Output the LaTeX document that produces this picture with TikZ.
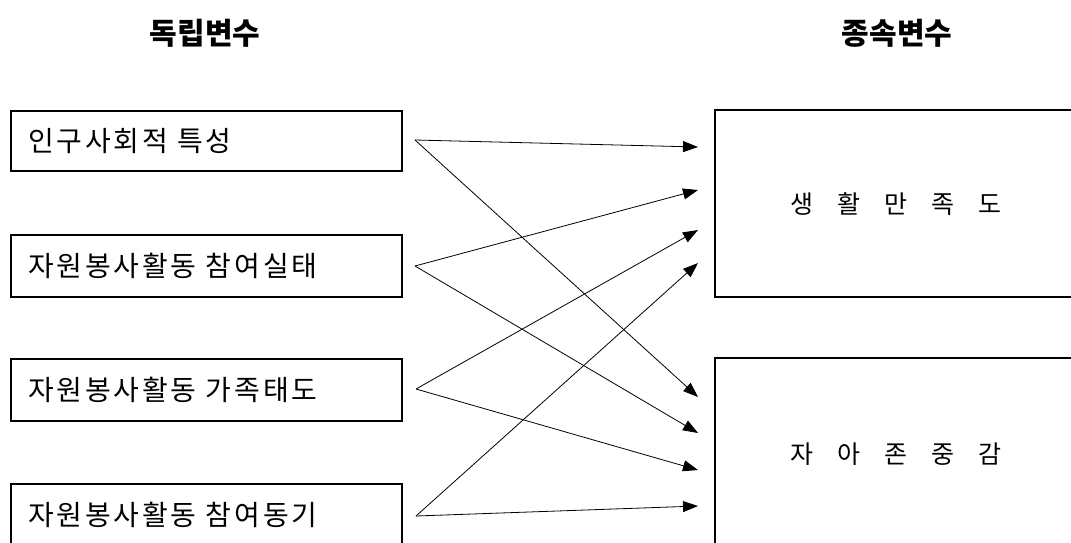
\documentclass[tikz,border=0pt]{standalone}
\usepackage{fontspec}
\setmainfont[WordSpace=3.5]{Noto Sans CJK KR}
\newfontfamily\tracked[WordSpace=3.5, LetterSpace=10]{Noto Sans CJK KR}
\newfontfamily\widespaced[WordSpace=4.3]{Noto Sans CJK KR}
\usetikzlibrary{arrows.meta}

\tikzset{
  ivbox/.style={draw, line width=2.2pt, anchor=north west, minimum width=391pt,
    text width=357pt, inner xsep=17pt, inner ysep=0pt, align=left,
    font=\tracked\fontsize{28}{30}\selectfont},
  dvbox/.style={draw, line width=2.2pt, anchor=north west, minimum width=362pt,
    align=center, font=\widespaced\fontsize{25}{30}\selectfont},
  heading/.style={font=\fontsize{30}{32}\selectfont\bfseries},
  path/.style={-{Triangle[length=15pt,width=11pt]}, line width=0.8pt}
}

\begin{document}
\begin{tikzpicture}[x=1pt, y=-1pt]
    \useasboundingbox (0,0) rectangle (1071,542);
    \clip (0,0) rectangle (1071,542);
    % headings
    \node[heading] (hiv) at (205,33) {독립변수};
    \node[heading] (hdv) at (897,33) {종속변수};
    % independent variables
    \node[ivbox, minimum height=60pt] (iv1) at (10,110) {인구사회적 특성};
    \node[ivbox, minimum height=62pt] (iv2) at (10,234) {자원봉사활동 참여실태};
    \node[ivbox, minimum height=62pt] (iv3) at (10,358) {자원봉사활동 가족태도};
    \node[ivbox, minimum height=62pt] (iv4) at (10,483) {자원봉사활동 참여동기};
    % dependent variables
    \node[dvbox, minimum height=187pt] (dv1) at (714,109) {생 활 만 족 도};
    \node[dvbox, minimum height=192pt] (dv2) at (714,357) {자 아 존 중 감};
    % arrow ends
    \coordinate (s1) at (415,140);
    \coordinate (s2) at (415,266);
    \coordinate (s3) at (416,389);
    \coordinate (s4) at (416,516);
    \coordinate (a1) at (698,147);
    \coordinate (a2) at (698,190);
    \coordinate (a3) at (698,230);
    \coordinate (a4) at (698,263);
    \coordinate (b1) at (698,397);
    \coordinate (b2) at (698,433);
    \coordinate (b3) at (698,470);
    \coordinate (b4) at (698,506);
    \foreach \i in {1,...,4} {
        \draw[path] (s\i) -- (a\i);
        \draw[path] (s\i) -- (b\i);
    }
\end{tikzpicture}
\end{document}
